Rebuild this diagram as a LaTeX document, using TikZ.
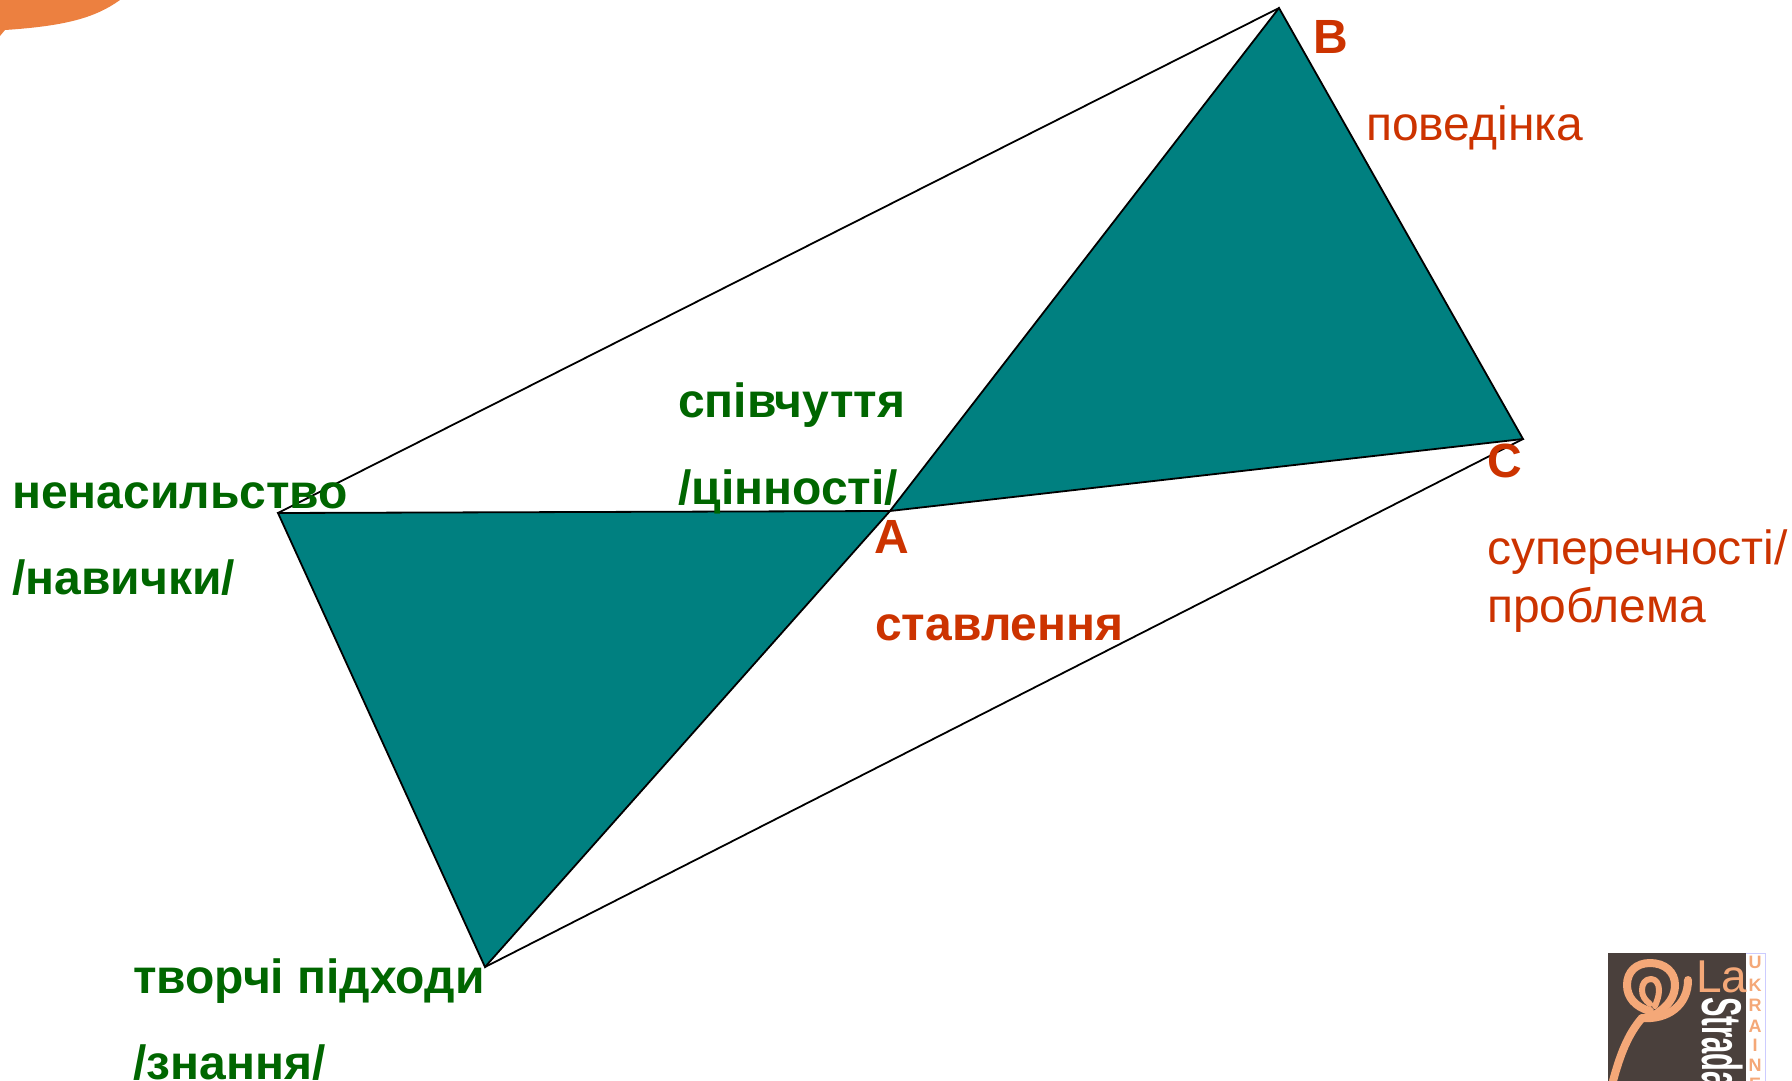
\documentclass[tikz,border=0pt]{standalone}
\usepackage{graphicx}
\usepackage{fontspec}
\setmainfont{Liberation Sans}
\definecolor{tealfill}{RGB}{0,128,128}
\definecolor{lblgreen}{RGB}{0,102,0}
\definecolor{lblred}{RGB}{204,51,0}
\definecolor{logobrown}{RGB}{74,64,60}
\definecolor{logoorange}{RGB}{244,168,120}
\definecolor{blob}{RGB}{236,128,64}
\tikzset{
  x=1pt,y=-1pt,
  edge/.style={draw=black,line width=1.8pt,line join=miter},
  tri/.style={edge,fill=tealfill},
  gl/.style={text=lblgreen,font=\fontsize{48}{48}\selectfont\bfseries,anchor=base west,inner sep=0pt},
  rb/.style={text=lblred,font=\fontsize{48}{48}\selectfont\bfseries,anchor=base west,inner sep=0pt},
  rn/.style={text=lblred,font=\fontsize{48}{48}\selectfont,anchor=base west,inner sep=0pt},
  logoline/.style={draw=logoorange,line cap=round,line join=round},
  ukr/.style={text=logoorange,font=\fontsize{18}{18}\selectfont\bfseries,inner sep=0pt},
}
\begin{document}
\begin{tikzpicture}
\useasboundingbox (0,0) rectangle (1792,1081);
\clip (0,0) rectangle (1792,1081);
\fill[blob] (0,0) -- (120,0) .. controls (95,18) and (65,26) .. (5,30) -- (0,36) -- cycle;
\coordinate (A) at (890,511);
\coordinate (B) at (1279,8);
\coordinate (C) at (1523,439);
\coordinate (D) at (278,513);
\coordinate (E) at (485,967);
\draw[tri] (A) -- (B) -- (C) -- cycle;
\draw[tri] (A) -- (D) -- (E) -- cycle;
\draw[edge] (D) -- (B);
\draw[edge] (E) -- (C);
\node[rb] (lB) at (1313,54) {В};
\node[rn] (lpov) at (1366,140) {поведінка};
\node[rb] (lC) at (1487,477) {С};
\node[rn] (lsup) at (1487,564) {суперечності/};
\node[rn] (lpro) at (1487,622) {проблема};
\node[rb] (lA) at (874,553) {А};
\node[rb] (lst) at (875,640) {ставлення};
\node[gl] (l1) at (678,417) {співчуття};
\node[gl] (l2) at (678,504) {/цінності/};
\node[gl] (l3) at (12,508) {ненасильство};
\node[gl] (l4) at (12,594) {/навички/};
\node[gl] (l5) at (133,993) {творчі підходи};
\node[gl] (l6) at (133,1079) {/знання/};
% logo
\fill[logobrown] (1608,953) rectangle (1746,1081);
\draw[draw=blue!20,line width=0.8pt] (1746,953) -- (1765,953) -- (1765,1081);
\draw[logoline,line width=8pt] (1613,1081) .. controls (1620,1055) and (1628,1034) .. (1642,1018);
\draw[logoline,line width=8pt] (1642,1018) .. controls (1668,1020) and (1688,1005) .. (1688,980);
\draw[logoline,line width=8pt] (1650,1011) .. controls (1635,1007) and (1627,997) .. (1627,985) .. controls (1627,972) and (1636,963) .. (1650,963) .. controls (1665,963) and (1675,972) .. (1675,985) .. controls (1675,997) and (1668,1006) .. (1656,1014);
\draw[logoline,line width=6pt] (1650,1004) .. controls (1645,1000) and (1642,996) .. (1642,990) .. controls (1642,984) and (1645,979) .. (1651,979) .. controls (1656,979) and (1659,984) .. (1659,990) .. controls (1659,996) and (1657,1001) .. (1655,1006);
\node[text=logoorange,font=\fontsize{46}{46}\selectfont,inner sep=0pt,anchor=base west] (lg1) at (1696,992) {La};
\node[rotate=-90,text=white,font=\fontsize{56}{56}\selectfont\bfseries,inner sep=0pt,anchor=base west] (lg2) at (1702,997) {\scalebox{0.52}[1]{Strada}};
\node[ukr] (u1) at (1755,962) {U};
\node[ukr] (u2) at (1755,985) {K};
\node[ukr] (u3) at (1755,1005) {R};
\node[ukr] (u4) at (1755,1026) {A};
\node[ukr] (u5) at (1755,1045) {I};
\node[ukr] (u6) at (1755,1065) {N};
\node[ukr] (u7) at (1755,1084) {E};
\end{tikzpicture}
\end{document}
